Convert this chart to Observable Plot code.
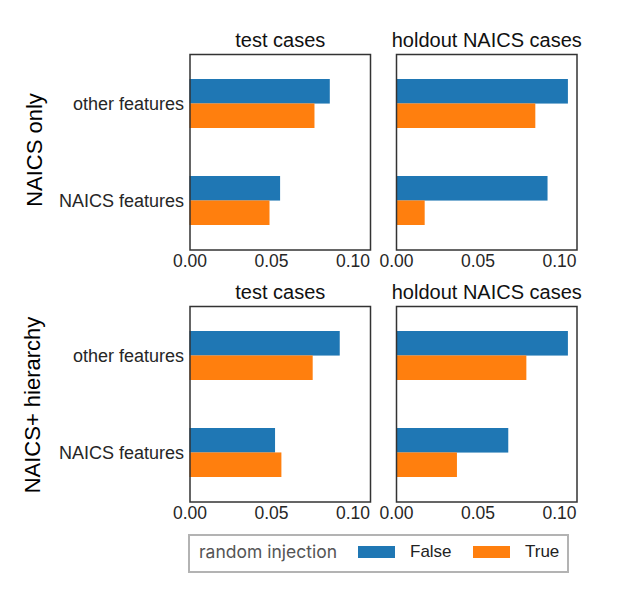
<!DOCTYPE html>
<html>
<head>
<meta charset="utf-8">
<script src="https://cdn.jsdelivr.net/npm/d3@7"></script>
<script src="https://cdn.jsdelivr.net/npm/@observablehq/plot@0.6"></script>
<style>
  body { margin: 0; background: #fff; }
  #root { position: relative; width: 618px; height: 590px; overflow: hidden; font-family: "Liberation Sans", Arial, sans-serif; }
  .panel { position: absolute; }
  .rowlab { position: absolute; font-size: 22px; color: #000; white-space: nowrap; transform: translate(-50%, -50%) rotate(-90deg); }
  #legend { position: absolute; box-sizing: border-box; border: 2px solid #b3b3b3; background: #fff; }
  #legend .t { position: absolute; font-family: Inter, sans-serif; font-size: 17.5px; color: #555; white-space: nowrap; }
  #legend .sw { position: absolute; }
  #legend .lb { position: absolute; font-size: 17px; color: #222; white-space: nowrap; }
</style>
</head>
<body>
<div id="root"></div>
<script>
// ---- data ----
const features = ["other features", "NAICS features"];
const groups = ["False", "True"];
const groupColors = ["#1f77b4", "#ff7f0e"];
const colTitles = ["test cases", "holdout NAICS cases"];
const rowTitles = ["NAICS only", "NAICS+ hierarchy"];
const xTicks = [0, 0.05, 0.10];
const legendTitle = "random injection";

// values per panel: [other features, NAICS features]
const onlyTestFalse = [0.0861, 0.0556];
const onlyTestTrue = [0.0767, 0.0491];
const onlyHoldFalse = [0.1055, 0.0930];
const onlyHoldTrue = [0.0855, 0.0176];
const hierTestFalse = [0.0922, 0.0525];
const hierTestTrue = [0.0756, 0.0564];
const hierHoldFalse = [0.1055, 0.0689];
const hierHoldTrue = [0.0800, 0.0374];

const panels = [
  {row: 0, col: 0, F: onlyTestFalse, T: onlyTestTrue},
  {row: 0, col: 1, F: onlyHoldFalse, T: onlyHoldTrue},
  {row: 1, col: 0, F: hierTestFalse, T: hierTestTrue},
  {row: 1, col: 1, F: hierHoldFalse, T: hierHoldTrue}
];

const allVals = panels.flatMap(p => [...p.F, ...p.T]);
const xMax = d3.max(allVals) * 1.05;

// ---- layout ----
const frameX = [189.5, 395.5];
const frameW = 180.5;
const frameY = [54, 306];
const frameH = 195.5;

const root = document.getElementById("root");

for (const p of panels) {
  const data = [];
  features.forEach((f, i) => {
    data.push({feature: f, group: groups[0], value: p.F[i]});
    data.push({feature: f, group: groups[1], value: p.T[i]});
  });
  const mL = p.col === 0 ? frameX[0] : 20;
  const mR = 22, mT = 34, mB = 32;
  const half = frameH / 2 * 0.5 / 2;
  const marks = [
    Plot.barX(data.filter(d => d.group === groups[0]), {x: "value", y: "feature", fill: groupColors[0], insetBottom: half}),
    Plot.barX(data.filter(d => d.group === groups[1]), {x: "value", y: "feature", fill: groupColors[1], insetTop: half}),
    Plot.frame({stroke: "#333", strokeWidth: 1.5}),
    Plot.axisX({ticks: xTicks, tickFormat: d3.format(".2f"), tickSize: 0, tickPadding: 5, label: null, fontSize: 17.5, fill: "#262626"}),
    Plot.text([colTitles[p.col]], {frameAnchor: "top", dy: -8, lineAnchor: "bottom", fontSize: 20, fill: "#111"})
  ];
  if (p.col === 0) marks.push(Plot.axisY({tickSize: 0, tickPadding: 6, label: null, fontSize: 18, fill: "#262626"}));
  const chart = Plot.plot({
    width: mL + frameW + mR,
    height: mT + frameH + mB,
    marginLeft: mL, marginRight: mR, marginTop: mT, marginBottom: mB,
    style: {fontFamily: "'Liberation Sans', Arial, sans-serif", fontSize: "17.5px", color: "#262626", background: "transparent", overflow: "visible"},
    x: {domain: [0, xMax], label: null},
    y: {domain: features, paddingInner: 0.5, paddingOuter: 0.25, label: null, axis: null},
    marks
  });
  chart.classList.add("panel");
  chart.style.left = (frameX[p.col] - mL) + "px";
  chart.style.top = (frameY[p.row] - mT) + "px";
  root.appendChild(chart);
}

// row labels
const rowCenters = [[35, 150], [33, 405]];
rowTitles.forEach((t, i) => {
  const d = document.createElement("div");
  d.className = "rowlab";
  d.textContent = t;
  d.style.left = rowCenters[i][0] + "px";
  d.style.top = rowCenters[i][1] + "px";
  root.appendChild(d);
});

// legend
const lg = document.createElement("div");
lg.id = "legend";
lg.style.left = "188px"; lg.style.top = "534px"; lg.style.width = "381px"; lg.style.height = "39px";
const lt = document.createElement("div");
lt.className = "t"; lt.textContent = legendTitle;
lt.style.left = "9px"; lt.style.top = "5px";
lg.appendChild(lt);
const swX = [168, 283];
groups.forEach((g, i) => {
  const s = document.createElement("div");
  s.className = "sw";
  s.style.left = swX[i] + "px"; s.style.top = "10px";
  s.style.width = "37px"; s.style.height = "12px";
  s.style.background = groupColors[i];
  lg.appendChild(s);
  const l = document.createElement("div");
  l.className = "lb"; l.textContent = g;
  l.style.left = (swX[i] + 52) + "px"; l.style.top = "6px";
  lg.appendChild(l);
});
root.appendChild(lg);
</script>
</body>
</html>
